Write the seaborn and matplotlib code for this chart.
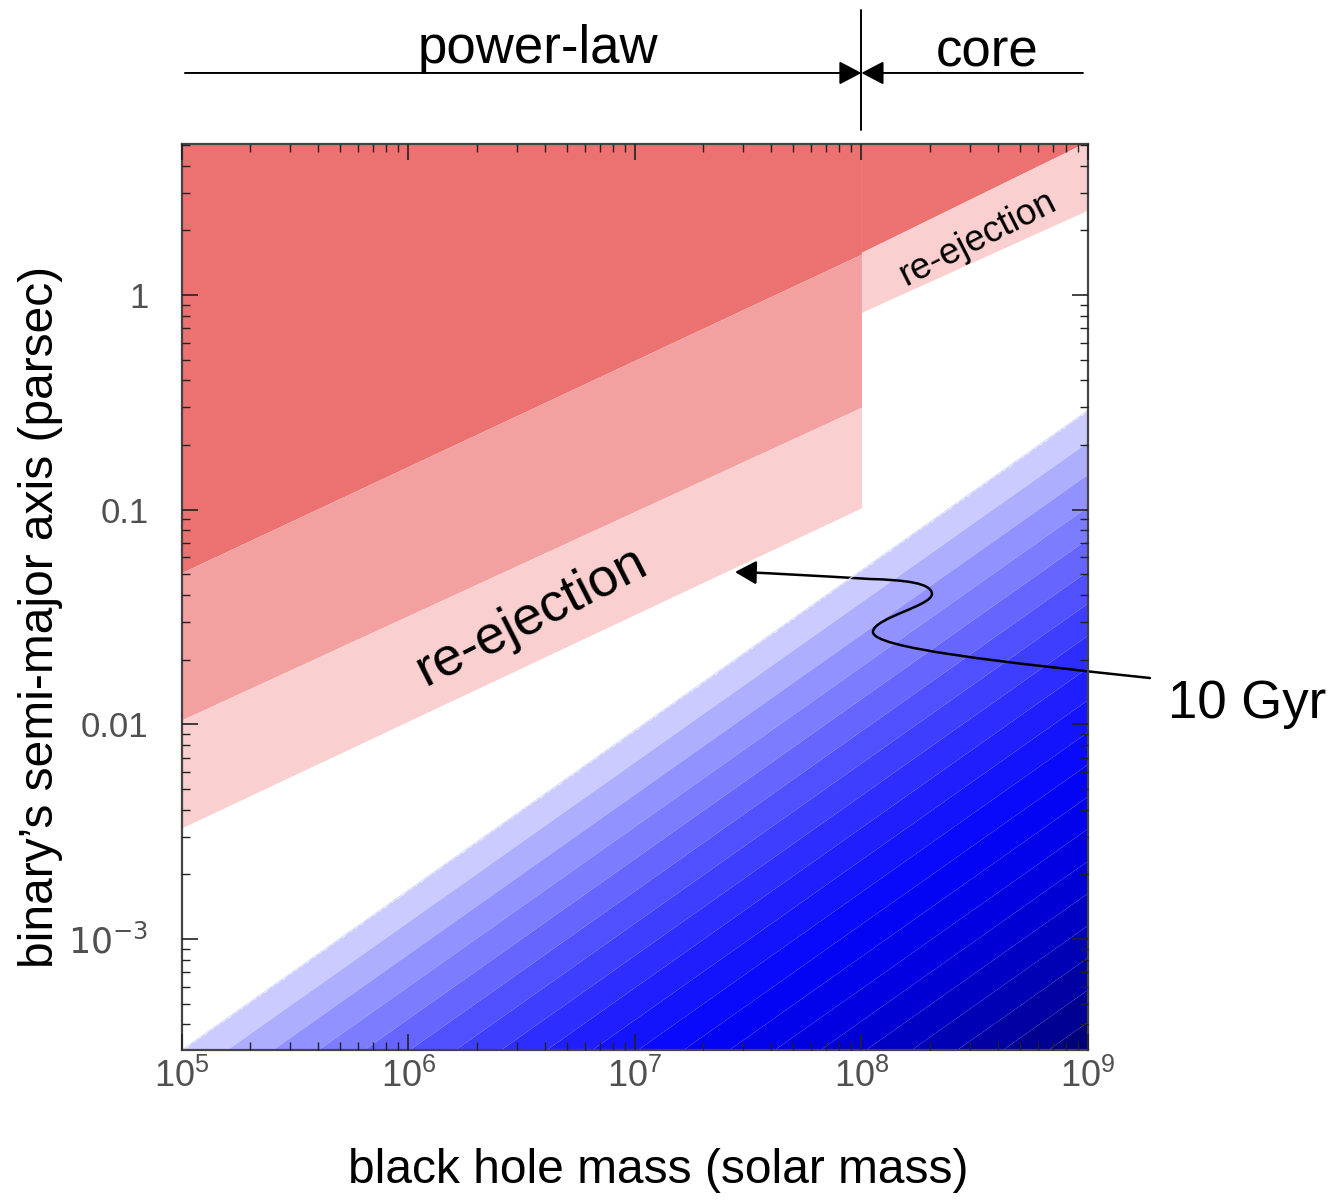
import numpy as np
import matplotlib
matplotlib.use("Agg")
import matplotlib.pyplot as plt
import seaborn as sns
from matplotlib.colors import LinearSegmentedColormap
from matplotlib.patches import FancyArrowPatch
from matplotlib.path import Path

# ---------------- data ----------------
# power-law regime (M = 1e5 .. 1e8), boundaries in parsec
pl_mass = [1e5, 1e8]
pl_dark_lower = [0.051, 1.55]     # lower edge of dark red zone
pl_mid_lower = [0.0105, 0.30]     # lower edge of medium pink zone
pl_light_lower = [0.0033, 0.102]  # lower edge of light pink (re-ejection) zone
# core regime (M = 1e8 .. 1e9)
core_mass = [1e8, 1e9]
core_dark_lower = [1.58, 5.2]
core_light_lower = [0.83, 2.49]
# 10 Gyr coalescence line (blue region below)
gyr_mass = [1e5, 1e9]
gyr_a = [3.04e-4, 0.29]

x_ticks = [1e5, 1e6, 1e7, 1e8, 1e9]
y_ticks = [1e-3, 1e-2, 1e-1, 1]
y_ticklabels = ["$10^{-3}$", "0.01", "0.1", "1"]
xlim = (1e5, 1e9)
ylim = (3.04e-4, 5.05)

# ---------------- style ----------------
sns.set_theme(style="ticks")
plt.rcParams["font.family"] = ["Liberation Sans", "DejaVu Sans"]
plt.rcParams["text.color"] = "black"
plt.rcParams["axes.labelcolor"] = "black"

c_dark = "#EC7272"
c_mid = "#F2A0A0"
c_light = "#F9CFCF"

fig = plt.figure(figsize=(13.3, 12.01), dpi=100)
ax = fig.add_axes([0.1368, 0.1257, 0.6812, 0.7544])
ax.set_xscale("log")
ax.set_yscale("log")
ax.set_xlim(*xlim)
ax.set_ylim(*ylim)
ax.set_axisbelow(False)

top = 50.0
# power-law zones
ax.fill_between(pl_mass, pl_dark_lower, [top, top], color=c_dark, lw=0)
ax.fill_between(pl_mass, pl_mid_lower, pl_dark_lower, color=c_mid, lw=0)
ax.fill_between(pl_mass, pl_light_lower, pl_mid_lower, color=c_light, lw=0)
# core zones
ax.fill_between(core_mass, core_dark_lower, [top, top], color=c_dark, lw=0)
ax.fill_between(core_mass, core_light_lower, core_dark_lower, color=c_light, lw=0)

# blue shading below the 10 Gyr line
lm = np.linspace(5, 9, 500)
la = np.linspace(np.log10(ylim[0]) - 0.05, np.log10(ylim[1]), 500)
LM, LA = np.meshgrid(lm, la)
lgyr = np.interp(LM, np.log10(gyr_mass), np.log10(gyr_a))
D = lgyr - LA
D = np.ma.masked_less(D, 0)
anchors = [(0.0, "#dadaff"), (0.12, "#9090ff"), (0.25, "#5555ff"),
           (0.38, "#2424ff"), (0.52, "#0505fa"), (0.65, "#0000e0"),
           (0.78, "#0000b8"), (0.9, "#00008a"), (1.0, "#000058")]
cmap = LinearSegmentedColormap.from_list("blues_custom", anchors)
ax.contourf(10 ** LM, 10 ** LA, D, levels=np.arange(0, 3.16, 0.15), cmap=cmap,
            antialiased=True)
sns.lineplot(x=gyr_mass, y=gyr_a, ax=ax, color="#dadaff", lw=0.8)

# ---------------- axes cosmetics ----------------
ax.set_xticks(x_ticks)
ax.set_yticks(y_ticks)
ax.set_yticklabels(y_ticklabels)
ax.tick_params(which="both", direction="in", top=True, right=True,
               bottom=True, left=True, color="#222222")
ax.tick_params(which="major", length=11.5, width=1.2)
ax.tick_params(which="minor", length=5.5, width=1.0)
ax.tick_params(axis="y", which="major", pad=24, labelsize=25, labelcolor="#505050")
ax.tick_params(axis="x", which="major", pad=6, labelsize=26, labelcolor="#505050")
for s in ax.spines.values():
    s.set_color("#444444")
    s.set_linewidth(1.6)
ax.set_xlabel("black hole mass (solar mass)", fontsize=34.5, color="black")
ax.set_ylabel("binary\u2019s semi-major axis (parsec)", fontsize=34.5, color="black")
ax.xaxis.set_label_coords(0.5254, -0.108)
ax.yaxis.set_label_coords(-0.131, 0.478)

# ---------------- labels inside ----------------
ax.text(0.3929, 0.4647, "re-ejection", transform=ax.transAxes, fontsize=39,
        rotation=27, rotation_mode="anchor", ha="center", va="baseline")
ax.text(0.883, 0.886, "re-ejection", transform=ax.transAxes, fontsize=26.5,
        rotation=27, rotation_mode="anchor", ha="center", va="baseline")

# ---------------- regime annotations above ----------------
yline = 1.0784
ax.annotate("", xy=(0.75, yline), xytext=(0.0033, yline), xycoords="axes fraction",
            textcoords="axes fraction", annotation_clip=False,
            arrowprops=dict(arrowstyle="-|>,head_length=1.37,head_width=0.72",
                            mutation_scale=10, color="black", lw=1.4,
                            shrinkA=0, shrinkB=0))
ax.annotate("", xy=(0.75, yline), xytext=(0.9945, yline), xycoords="axes fraction",
            textcoords="axes fraction", annotation_clip=False,
            arrowprops=dict(arrowstyle="-|>,head_length=1.37,head_width=0.72",
                            mutation_scale=10, color="black", lw=1.4,
                            shrinkA=0, shrinkB=0))
ax.plot([0.75, 0.75], [1.0155, 1.148], transform=ax.transAxes, color="black",
        lw=1.4, clip_on=False)
ax.text(0.393, 1.0894, "power-law", transform=ax.transAxes, fontsize=38,
        ha="center", va="baseline")
ax.text(0.8885, 1.085, "core", transform=ax.transAxes, fontsize=38,
        ha="center", va="baseline")

# ---------------- 10 Gyr curly arrow ----------------
verts = [(1.0684, 0.4106),
         (0.9029, 0.4283), (0.7627, 0.4437), (0.7627, 0.4614),
         (0.7627, 0.4768), (0.8278, 0.4901), (0.8278, 0.5033),
         (0.8278, 0.5155), (0.7980, 0.5188), (0.7594, 0.5199),
         (0.7042, 0.5232), (0.6490, 0.5265), (0.6104, 0.5276)]
codes = [Path.MOVETO] + [Path.CURVE4] * 12
arr = FancyArrowPatch(path=Path(verts, codes),
                      arrowstyle="-|>,head_length=1.3,head_width=0.72",
                      mutation_scale=10, color="black", lw=1.8,
                      transform=ax.transAxes, clip_on=False)
ax.add_patch(arr)
ax.text(1.0883, 0.3664, "10 Gyr", transform=ax.transAxes, fontsize=38,
        ha="left", va="baseline")

fig.savefig("out.png", dpi=100)
